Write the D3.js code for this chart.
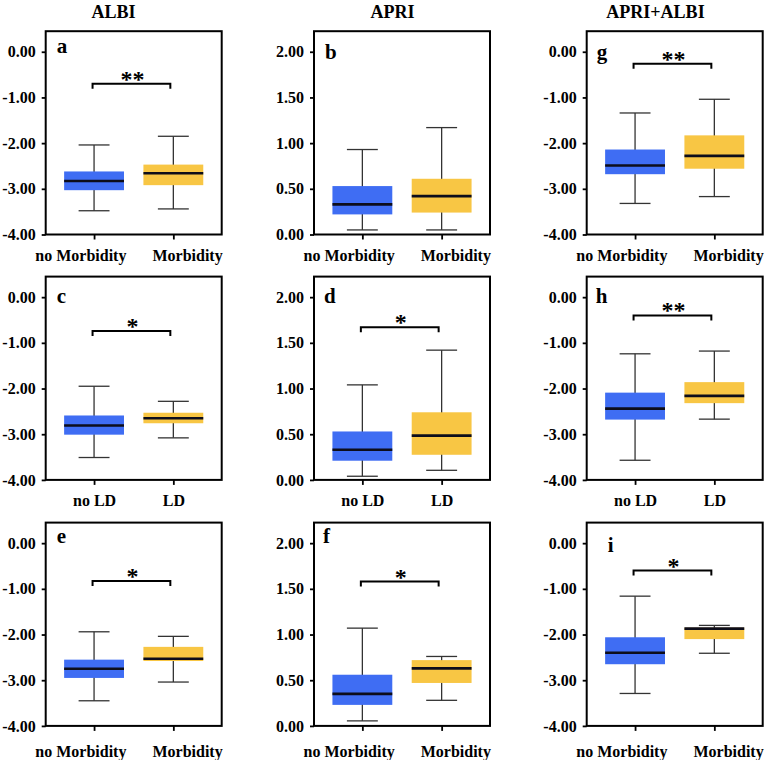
<!DOCTYPE html>
<html>
<head>
<meta charset="utf-8">
<script src="https://cdn.jsdelivr.net/npm/d3@7"></script>
<style>
  html, body { margin: 0; padding: 0; background: #fff; }
  svg { display: block; }
  text { font-family: "Times New Roman", "Liberation Serif", "DejaVu Serif", serif; font-weight: bold; fill: #000; }
</style>
</head>
<body>
<svg id="chart" width="767" height="760"></svg>
<script>
// ---------------- DATA ----------------
const columnTitles = ["ALBI", "APRI", "APRI+ALBI"];
const panelLetters = ["a", "b", "g", "c", "d", "h", "e", "f", "i"];
const rowGroups = [["no Morbidity", "Morbidity"], ["no LD", "LD"], ["no Morbidity", "Morbidity"]];
const columnMetric = ["ALBI", "APRI", "ALBI"];

const negTicks = [0, -1, -2, -3, -4];
const aprTicks = [0, 0.5, 1, 1.5, 2];

// per panel (a, b, g, c, d, h, e, f, i), each [group0, group1]
const whiskerLow = [
  [-3.48, -3.44], [0.05, 0.05], [-3.32, -3.17],
  [-3.51, -3.08], [0.04, 0.105], [-3.57, -2.67],
  [-3.45, -3.04], [0.055, 0.28], [-3.29, -2.41]
];
const q1 = [
  [-3.03, -2.92], [0.22, 0.24], [-2.68, -2.56],
  [-3.01, -2.76], [0.21, 0.275], [-2.68, -2.32],
  [-2.95, -2.58], [0.23, 0.47], [-2.65, -2.10]
];
const median = [
  [-2.83, -2.66], [0.33, 0.42], [-2.49, -2.28],
  [-2.81, -2.65], [0.33, 0.485], [-2.44, -2.16],
  [-2.75, -2.53], [0.35, 0.63], [-2.40, -1.87]
];
const q3 = [
  [-2.62, -2.47], [0.53, 0.61], [-2.14, -1.83],
  [-2.59, -2.53], [0.53, 0.74], [-2.09, -1.86],
  [-2.55, -2.27], [0.56, 0.72], [-2.06, -1.85]
];
const whiskerHigh = [
  [-2.04, -1.85], [0.93, 1.17], [-1.34, -1.04],
  [-1.95, -2.28], [1.04, 1.42], [-1.24, -1.18],
  [-1.94, -2.04], [1.07, 0.76], [-1.16, -1.80]
];
const significance = ["**", "", "**", "*", "*", "**", "*", "*", "*"];
const bracketLevel = [-0.70, null, -0.26, -0.74, 1.67, -0.40, -0.83, 1.58, -0.60];

// ---------------- LAYOUT ----------------
const colLeft = [45.7, 314, 586.7];
const rowTop = [31.2, 276.6, 522.6];
const frameW = 176, frameH = 203.3;
const titleX = [113.5, 392.5, 655.5];
const xLabelPad = [10.5, 10, 14.3];
const letterDx = [11, 11, 10, 11, 10, 9, 11, 9, 21];
const letterDy = [21.5, 27.5, 27.5, 26.6, 26.6, 26.6, 20.8, 20.8, 29];
const blue = "#3f6df3", yellow = "#f8c644";
const FONT = '"Times New Roman", "Liberation Serif", serif';

const svg = d3.select("#chart");

// column titles
svg.selectAll("text.title").data(columnTitles).join("text")
  .attr("class", "title")
  .attr("x", (d, i) => titleX[i]).attr("y", 17.5)
  .attr("text-anchor", "middle").attr("font-size", 18)
  .text(d => d);

panelLetters.forEach((letter, p) => {
  const r = Math.floor(p / 3), c = p % 3;
  const g = svg.append("g").attr("transform", `translate(${colLeft[c]},${rowTop[r]})`);
  const isApri = columnMetric[c] === "APRI";
  const y = d3.scaleLinear()
    .domain(isApri ? [0, 2.225] : [-4, 0.45])
    .range([frameH, 0]);
  const cats = rowGroups[r];
  const x = d3.scalePoint().domain(cats).range([0, frameW]).padding(0.61);
  const step = x.step();
  const boxW = step * 0.755, capW = step * 0.39;

  // y axis
  const ya = g.append("g")
    .call(d3.axisLeft(y).tickValues(isApri ? aprTicks : negTicks)
      .tickSize(4).tickSizeOuter(0).tickPadding(6)
      .tickFormat(d => d.toFixed(2)));
  ya.attr("font-family", FONT);
  ya.select(".domain").remove();
  ya.selectAll(".tick line").attr("stroke", "#000").attr("stroke-width", 1.8);
  ya.selectAll(".tick text").attr("font-size", 16)
    .attr("font-weight", "bold").attr("fill", "#000");

  // x axis
  const xa = g.append("g").attr("transform", `translate(0,${frameH})`)
    .call(d3.axisBottom(x).tickSize(5).tickSizeOuter(0).tickPadding(xLabelPad[r]));
  xa.attr("font-family", FONT);
  xa.select(".domain").remove();
  xa.selectAll(".tick line").attr("stroke", "#000").attr("stroke-width", 1.8);
  const xt = xa.selectAll(".tick text").attr("font-size", 16)
    .attr("font-weight", "bold").attr("fill", "#000");
  // push labels apart when they crowd
  const nodes = xt.nodes();
  const w0 = nodes[0].getComputedTextLength(), w1 = nodes[1].getComputedTextLength();
  const gap = (x(cats[1]) - w1 / 2) - (x(cats[0]) + w0 / 2);
  const push = Math.max(0, (26 - gap) / 2);
  d3.select(nodes[0]).attr("dx", -push);
  d3.select(nodes[1]).attr("dx", push);

  // boxes
  const groups = cats.map((cat, k) => ({
    cat, k,
    lo: whiskerLow[p][k], q1: q1[p][k], med: median[p][k], q3: q3[p][k], hi: whiskerHigh[p][k]
  }));
  const bg = g.selectAll("g.box").data(groups).join("g").attr("class", "box");
  bg.append("line")
    .attr("x1", d => x(d.cat)).attr("x2", d => x(d.cat))
    .attr("y1", d => y(d.hi)).attr("y2", d => y(d.lo))
    .attr("stroke", "#333").attr("stroke-width", 1.3);
  bg.append("line")
    .attr("x1", d => x(d.cat) - capW / 2).attr("x2", d => x(d.cat) + capW / 2)
    .attr("y1", d => y(d.hi)).attr("y2", d => y(d.hi))
    .attr("stroke", "#333").attr("stroke-width", 1.3);
  bg.append("line")
    .attr("x1", d => x(d.cat) - capW / 2).attr("x2", d => x(d.cat) + capW / 2)
    .attr("y1", d => y(d.lo)).attr("y2", d => y(d.lo))
    .attr("stroke", "#333").attr("stroke-width", 1.3);
  bg.append("rect")
    .attr("x", d => x(d.cat) - boxW / 2).attr("width", boxW)
    .attr("y", d => y(d.q3)).attr("height", d => y(d.q1) - y(d.q3))
    .attr("fill", d => d.k === 0 ? blue : yellow);
  bg.append("line")
    .attr("x1", d => x(d.cat) - boxW / 2).attr("x2", d => x(d.cat) + boxW / 2)
    .attr("y1", d => y(d.med)).attr("y2", d => y(d.med))
    .attr("stroke", "#0d0d1a").attr("stroke-width", 2.6);

  // significance bracket
  if (significance[p]) {
    const by = y(bracketLevel[p]);
    const x0 = x(cats[0]) - 1.5, x1 = x(cats[1]) - 3;
    g.append("path")
      .attr("d", `M${x0},${by + 5}V${by}H${x1}V${by + 5}`)
      .attr("fill", "none").attr("stroke", "#000").attr("stroke-width", 2);
    g.append("text")
      .attr("x", (x0 + x1) / 2 + 1).attr("y", by + 3)
      .attr("text-anchor", "middle").attr("font-size", 24)
      .text(significance[p]);
  }

  // frame
  g.append("rect").attr("width", frameW).attr("height", frameH)
    .attr("fill", "none").attr("stroke", "#000").attr("stroke-width", 2);

  // panel letter
  g.append("text")
    .attr("x", letterDx[p]).attr("y", letterDy[p])
    .attr("font-size", 21).text(letter);
});
</script>
</body>
</html>
